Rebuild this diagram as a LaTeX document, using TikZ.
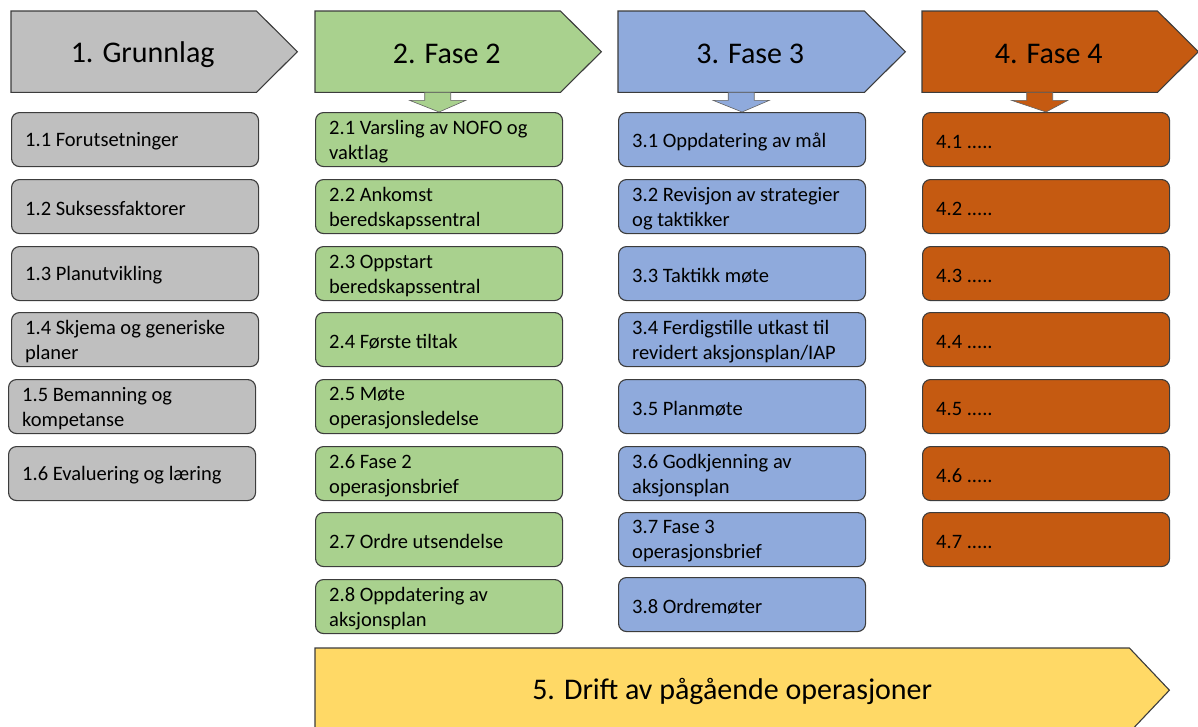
\documentclass[tikz,border=0pt]{standalone}
\usepackage{fontspec}
\setmainfont{Carlito}
\usetikzlibrary{calc}

\definecolor{grayfill}{HTML}{BFBFBF}
\definecolor{greenfill}{HTML}{A9D18E}
\definecolor{bluefill}{HTML}{8FAADC}
\definecolor{orangefill}{HTML}{C55A11}
\definecolor{yellowfill}{HTML}{FFD966}
\definecolor{edge}{HTML}{3C3C3C}

% one task box: name, x, y (top left), fill, text
\newcommand\stepitem[5]{%
  \node[item, fill=#4] (#1) at (#2,#3) {};
  \node[itemtext] (#1-t) at ($(#1.west)+(14,2)$) {#5};
}
% phase header: chevron body node, its outline, and the title
\newcommand\phasehead[6]{% name, x, y, width, fill, title
  \node[hbody, minimum width=#4pt] (#1) at (#2,#3) {};
  \draw[hshape, fill=#5] (#1.north west) -- (#1.north east) -- ($(#1.east)+(41,0)$)
       -- (#1.south east) -- (#1.south west) -- cycle;
  \node[htext] (#1-t) at ($(#1.center)+(9,2.5)$) {#6};
}
% block arrow leading from a header down to its first task
\newcommand\leadarrow[3]{% header, first box, fill
  \draw[darrow, fill=#3] ($(#1.south)+(-13,0)$) -- ($(#1.south)+(-13,8)$) -- ($(#1.south)+(-28,8)$)
       -- (#2.north) -- ($(#1.south)+(28,8)$) -- ($(#1.south)+(13,8)$) -- ($(#1.south)+(13,0)$) -- cycle;
}

\begin{document}
\begin{tikzpicture}[x=1pt, y=-1pt,
  item/.style={draw=edge, line width=1.1pt, rounded corners=8pt, anchor=north west,
    minimum width=247pt, minimum height=54pt, inner sep=0pt},
  itemtext/.style={anchor=west, align=left, inner sep=0pt, text=black,
    font=\fontsize{20.5}{25}\selectfont},
  hbody/.style={anchor=north west, minimum height=81pt, inner sep=0pt},
  hshape/.style={draw=edge, line width=1.1pt, line join=miter},
  htext/.style={inner sep=0pt, text=black, font=\fontsize{30}{36}\selectfont},
  darrow/.style={draw=edge!80, line width=0.6pt, line join=miter},
]
\useasboundingbox (0,0) rectangle (1198,726);
\clip (0,0) rectangle (1198,726);

% phase headers
\phasehead{h1}{11}{11}{245}{grayfill}{1. Grunnlag}
\phasehead{h2}{315}{11}{245}{greenfill}{2. Fase 2}
\phasehead{h3}{618}{11}{246}{bluefill}{3. Fase 3}
\phasehead{h4}{922}{11}{235}{orangefill}{4. Fase 4}

% column 1
\stepitem{b11}{11}{112}{grayfill}{1.1 Forutsetninger}
\stepitem{b12}{11}{179}{grayfill}{1.2 Suksessfaktorer}
\stepitem{b13}{11}{246}{grayfill}{1.3 Planutvikling}
\stepitem{b14}{11}{312}{grayfill}{1.4 Skjema og generiske\\planer}
\stepitem{b15}{8}{379}{grayfill}{1.5 Bemanning og\\kompetanse}
\stepitem{b16}{8}{446}{grayfill}{1.6 Evaluering og læring}

% column 2
\stepitem{b21}{315}{112}{greenfill}{2.1 Varsling av NOFO og\\vaktlag}
\stepitem{b22}{315}{179}{greenfill}{2.2 Ankomst\\beredskapssentral}
\stepitem{b23}{315}{246}{greenfill}{2.3 Oppstart\\beredskapssentral}
\stepitem{b24}{315}{312}{greenfill}{2.4 Første tiltak}
\stepitem{b25}{315}{379}{greenfill}{2.5 Møte\\operasjonsledelse}
\stepitem{b26}{315}{446}{greenfill}{2.6 Fase 2\\operasjonsbrief}
\stepitem{b27}{315}{512}{greenfill}{2.7 Ordre utsendelse}
\stepitem{b28}{315}{579}{greenfill}{2.8 Oppdatering av\\aksjonsplan}

% column 3
\stepitem{b31}{618}{112}{bluefill}{3.1 Oppdatering av mål}
\stepitem{b32}{618}{179}{bluefill}{3.2 Revisjon av strategier\\og taktikker}
\stepitem{b33}{618}{246}{bluefill}{3.3 Taktikk møte}
\stepitem{b34}{618}{312}{bluefill}{3.4 Ferdigstille utkast til\\revidert aksjonsplan/IAP}
\stepitem{b35}{618}{379}{bluefill}{3.5 Planmøte}
\stepitem{b36}{618}{446}{bluefill}{3.6 Godkjenning av\\aksjonsplan}
\stepitem{b37}{618}{512}{bluefill}{3.7 Fase 3\\operasjonsbrief}
\stepitem{b38}{618}{577}{bluefill}{3.8 Ordremøter}

% column 4
\stepitem{b41}{922}{112}{orangefill}{4.1 .....}
\stepitem{b42}{922}{179}{orangefill}{4.2 .....}
\stepitem{b43}{922}{246}{orangefill}{4.3 .....}
\stepitem{b44}{922}{312}{orangefill}{4.4 .....}
\stepitem{b45}{922}{379}{orangefill}{4.5 .....}
\stepitem{b46}{922}{446}{orangefill}{4.6 .....}
\stepitem{b47}{922}{512}{orangefill}{4.7 .....}

% arrows from headers to first tasks
\leadarrow{h2}{b21}{greenfill}
\leadarrow{h3}{b31}{bluefill}
\leadarrow{h4}{b41}{orangefill}

% ongoing operations band
\node[hbody, minimum width=814pt, minimum height=84pt] (h5) at (315,648) {};
\draw[hshape, fill=yellowfill] (h5.north west) -- (h5.north east) -- ($(h5.east)+(40,0)$)
     -- (h5.south east) -- (h5.south west) -- cycle;
\node[htext] (h5-t) at ($(h5.center)+(10,1)$) {5. Drift av pågående operasjoner};
\end{tikzpicture}
\end{document}
